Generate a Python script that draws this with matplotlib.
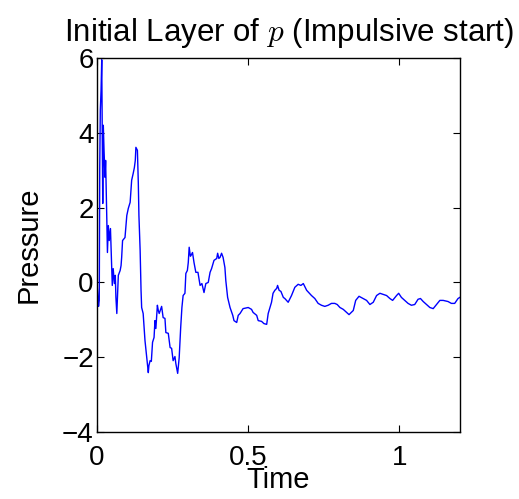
import matplotlib
matplotlib.use("Agg")
import matplotlib.pyplot as plt

plt.rcParams['font.family'] = ['Liberation Sans', 'DejaVu Sans']
plt.rcParams['mathtext.fontset'] = 'cm'

# values
time = [0.001, 0.003, 0.0066, 0.009, 0.0106, 0.0125, 0.0149, 0.0172, 0.019, 0.0205,
        0.0224, 0.0248, 0.028, 0.030, 0.032, 0.034, 0.036, 0.039, 0.042, 0.046,
        0.050, 0.052, 0.055, 0.059, 0.062, 0.064, 0.067, 0.072, 0.078, 0.081,
        0.083, 0.086, 0.094, 0.100, 0.105, 0.111, 0.116, 0.121, 0.125, 0.128,
        0.130, 0.135, 0.138, 0.140, 0.144, 0.147, 0.149, 0.154, 0.160, 0.166,
        0.171, 0.173, 0.177, 0.181, 0.185, 0.190, 0.193, 0.196, 0.201, 0.204,
        0.207, 0.215, 0.220, 0.226, 0.229, 0.237, 0.243, 0.248, 0.253, 0.259,
        0.262, 0.268, 0.273, 0.278, 0.282, 0.286, 0.292, 0.295, 0.300, 0.303,
        0.306, 0.310, 0.312, 0.317, 0.322, 0.328, 0.335, 0.342, 0.348, 0.355,
        0.361, 0.369, 0.375, 0.380, 0.388, 0.397, 0.400, 0.404, 0.408, 0.413,
        0.418, 0.424, 0.427, 0.433, 0.441, 0.450, 0.454, 0.463, 0.468, 0.474,
        0.484, 0.501, 0.512, 0.517, 0.529, 0.534, 0.545, 0.553, 0.562, 0.567,
        0.573, 0.578, 0.583, 0.589, 0.595, 0.598, 0.603, 0.609, 0.617, 0.622,
        0.633, 0.644, 0.655, 0.666, 0.675, 0.683, 0.694, 0.701, 0.710, 0.721,
        0.732, 0.743, 0.754, 0.765, 0.776, 0.787, 0.795, 0.804, 0.815, 0.826,
        0.834, 0.848, 0.856, 0.867, 0.881, 0.892, 0.903, 0.914, 0.925, 0.936,
        0.947, 0.958, 0.969, 0.978, 0.991, 0.998, 1.007, 1.018, 1.029, 1.040,
        1.051, 1.062, 1.070, 1.079, 1.090, 1.101, 1.112, 1.123, 1.134, 1.145,
        1.161, 1.172, 1.183, 1.194, 1.200]
pressure = [0.05, -0.21, -0.64, -0.48, 3.07, 4.6, 5.13, 5.95, 4.06, 2.11,
            4.2, 3.53, 2.81, 3.26, 2.38, 1.66, 0.80, 1.52, 1.12, 1.44,
            0.40, -0.08, 0.37, -0.03, 0.19, -0.40, -0.83, 0.19, 0.32, 0.45,
            0.67, 1.12, 1.20, 1.79, 1.98, 2.14, 2.73, 2.91, 3.07, 3.26,
            3.61, 3.53, 2.65, 1.79, 0.86, -0.21, -0.67, -0.83, -1.55, -2.01,
            -2.41, -2.22, -2.09, -2.11, -1.60, -1.47, -1.02, -1.23, -0.61, -0.75,
            -0.83, -0.64, -0.94, -0.96, -1.34, -1.36, -1.74, -1.76, -2.09, -1.98,
            -2.17, -2.43, -2.01, -1.20, -0.67, -0.35, -0.29, 0.24, 0.32, 0.53,
            0.94, 0.70, 0.72, 0.80, 0.53, 0.27, 0.27, -0.08, -0.03, -0.27,
            -0.03, 0.0, 0.27, 0.37, 0.59, 0.64, 0.78, 0.64, 0.67, 0.78,
            0.67, 0.40, 0.05, -0.40, -0.67, -0.88, -1.02, -1.07, -0.88, -0.83,
            -0.70, -0.67, -0.72, -0.80, -0.88, -1.02, -1.04, -1.10, -1.12, -0.83,
            -0.67, -0.53, -0.29, -0.21, -0.16, -0.08, -0.21, -0.24, -0.40, -0.43,
            -0.53, -0.35, -0.13, -0.05, -0.08, -0.03, -0.21, -0.27, -0.35, -0.43,
            -0.56, -0.61, -0.64, -0.61, -0.56, -0.56, -0.59, -0.67, -0.72, -0.80,
            -0.86, -0.75, -0.48, -0.37, -0.43, -0.48, -0.59, -0.53, -0.35, -0.29,
            -0.32, -0.35, -0.43, -0.48, -0.35, -0.29, -0.40, -0.48, -0.56, -0.61,
            -0.59, -0.45, -0.43, -0.51, -0.59, -0.67, -0.70, -0.59, -0.48, -0.48,
            -0.51, -0.56, -0.56, -0.43, -0.40]

xticks = [0, 0.5, 1]
xticklabels = ['0', '0.5', '1']
yticks = [-4, -2, 0, 2, 4, 6]

fig = plt.figure(figsize=(5.19, 4.99), dpi=100)
ax = fig.add_axes([0.186, 0.134, 0.70, 0.75])
ax.plot(time, pressure, color='#0000ff', linewidth=1.0)

ax.set_xlim(0, 1.2)
ax.set_ylim(-4, 6)
ax.set_xticks(xticks)
ax.set_xticklabels(xticklabels)
ax.set_yticks(yticks)
ax.tick_params(direction='in', top=True, right=True, length=5, width=0.8,
               labelsize=20, pad=2)
ax.tick_params(axis='x', pad=9)
for s in ax.spines.values():
    s.set_linewidth(1.0)

ax.set_xlabel('Time', fontsize=21, labelpad=-3)
ax.set_ylabel('Pressure', fontsize=21, labelpad=14)
ax.set_title('Initial Layer of $p$ (Impulsive start)', fontsize=22.5, pad=12, x=0.53)

fig.savefig('out.png', dpi=100)
